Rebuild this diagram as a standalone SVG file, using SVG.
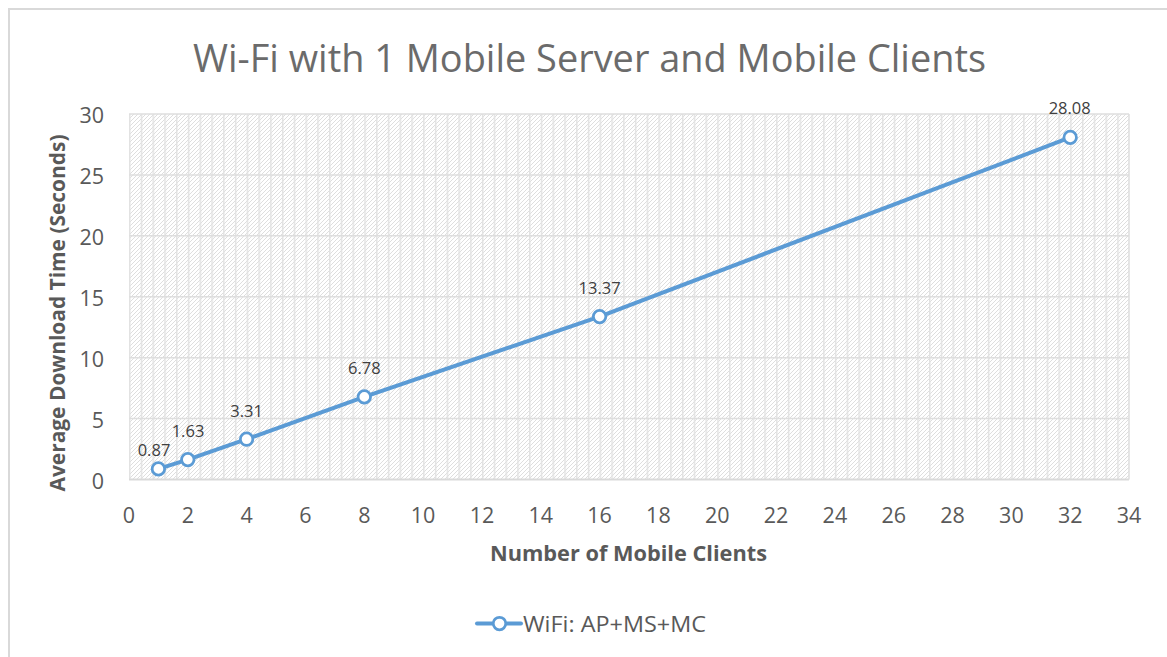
<svg xmlns="http://www.w3.org/2000/svg" width="1167" height="657" viewBox="0 0 1167 657">
  <style>
    .tick { font-family: "Open Sans", "Liberation Sans", sans-serif; font-size: 21.5px; fill: #595959; }
    .ytick { text-anchor: end; }
    .xtick { text-anchor: middle; }
    .lbl { font-family: "Open Sans", "Liberation Sans", sans-serif; font-size: 16.5px; fill: #404040; text-anchor: middle; }
    .axtitle { font-family: "Open Sans", "Liberation Sans", sans-serif; font-size: 21.5px; font-weight: bold; fill: #595959; text-anchor: middle; }
    .grid { stroke: #dedede; stroke-width: 1.5; }
    .series { fill: none; stroke: #5b9bd5; stroke-width: 4; stroke-linejoin: round; stroke-linecap: round; }
    .mk { fill: #ffffff; stroke: #5b9bd5; stroke-width: 2.75; }
  </style>
  <defs>
    <pattern id="hatch" patternUnits="userSpaceOnUse" x="0" y="0" width="4" height="4">
      <path d="M-1,1 L1,-1 M0,4 L4,0 M3,5 L5,3" stroke="#d6d6d6" stroke-width="0.8"/>
    </pattern>
    <pattern id="vlines" patternUnits="userSpaceOnUse" x="129" y="0" width="11.765" height="20">
      <line x1="0.75" y1="0" x2="0.75" y2="20" stroke="#e2e2e2" stroke-width="1.5"/>
    </pattern>
  </defs>

  <rect x="0" y="0" width="1167" height="657" fill="#ffffff"/>
  <rect id="chart-border" x="9" y="9" width="1200" height="700" fill="none" stroke="#d9d9d9" stroke-width="2"/>

  <g id="title">
    <text x="589.5" y="72" font-family="Open Sans, Liberation Sans, sans-serif" font-size="38" fill="#6b6b6b" text-anchor="middle" textLength="793" lengthAdjust="spacingAndGlyphs">Wi-Fi with 1 Mobile Server and Mobile Clients</text>
  </g>

  <g id="plot-area">
    <rect x="129" y="114" width="1000" height="365.5" fill="#ffffff"/>
    <rect x="129" y="114" width="1000" height="365.5" fill="url(#hatch)"/>
    <rect x="129" y="114" width="1000" height="365.5" fill="url(#vlines)"/>
    <line class="grid" x1="129" y1="114" x2="1129" y2="114"/>
    <line class="grid" x1="129" y1="174.9" x2="1129" y2="174.9"/>
    <line class="grid" x1="129" y1="235.8" x2="1129" y2="235.8"/>
    <line class="grid" x1="129" y1="296.75" x2="1129" y2="296.75"/>
    <line class="grid" x1="129" y1="357.7" x2="1129" y2="357.7"/>
    <line class="grid" x1="129" y1="418.6" x2="1129" y2="418.6"/>
    <line x1="129" y1="479.5" x2="1129" y2="479.5" stroke="#d9d9d9" stroke-width="2"/>
    <line class="grid" x1="1129" y1="114" x2="1129" y2="479.5"/>
  </g>

  <g id="y-axis">
    <text class="tick ytick" x="104" y="123">30</text>
    <text class="tick ytick" x="104" y="184">25</text>
    <text class="tick ytick" x="104" y="245">20</text>
    <text class="tick ytick" x="104" y="306">15</text>
    <text class="tick ytick" x="104" y="367">10</text>
    <text class="tick ytick" x="104" y="428">5</text>
    <text class="tick ytick" x="104" y="489">0</text>
    <text class="axtitle" transform="translate(65,313) rotate(-90)" textLength="357" lengthAdjust="spacingAndGlyphs">Average Download Time (Seconds)</text>
  </g>

  <g id="x-axis">
    <text class="tick xtick" x="129" y="523">0</text>
    <text class="tick xtick" x="187.8" y="523">2</text>
    <text class="tick xtick" x="246.6" y="523">4</text>
    <text class="tick xtick" x="305.5" y="523">6</text>
    <text class="tick xtick" x="364.3" y="523">8</text>
    <text class="tick xtick" x="423.1" y="523">10</text>
    <text class="tick xtick" x="482" y="523">12</text>
    <text class="tick xtick" x="540.8" y="523">14</text>
    <text class="tick xtick" x="599.6" y="523">16</text>
    <text class="tick xtick" x="658.4" y="523">18</text>
    <text class="tick xtick" x="717.2" y="523">20</text>
    <text class="tick xtick" x="776.1" y="523">22</text>
    <text class="tick xtick" x="834.9" y="523">24</text>
    <text class="tick xtick" x="893.7" y="523">26</text>
    <text class="tick xtick" x="952.5" y="523">28</text>
    <text class="tick xtick" x="1011.4" y="523">30</text>
    <text class="tick xtick" x="1070.2" y="523">32</text>
    <text class="tick xtick" x="1129" y="523">34</text>
    <text class="axtitle" x="628.5" y="561" textLength="277" lengthAdjust="spacingAndGlyphs">Number of Mobile Clients</text>
  </g>

  <g id="connectors">
    <path class="series" d="M158.4,468.9 L187.8,459.6 L246.6,439.2 L364.3,396.9 L599.6,316.6 L1070.2,137.4"/>
  </g>

  <g id="point-1"><circle class="mk" cx="158.4" cy="468.9" r="6.25"/><text class="lbl" x="154" y="456">0.87</text></g>
  <g id="point-2"><circle class="mk" cx="187.8" cy="459.6" r="6.25"/><text class="lbl" x="188" y="437">1.63</text></g>
  <g id="point-4"><circle class="mk" cx="246.6" cy="439.2" r="6.25"/><text class="lbl" x="246.6" y="417">3.31</text></g>
  <g id="point-8"><circle class="mk" cx="364.3" cy="396.9" r="6.25"/><text class="lbl" x="364.3" y="374">6.78</text></g>
  <g id="point-16"><circle class="mk" cx="599.6" cy="316.6" r="6.25"/><text class="lbl" x="599.6" y="293.5">13.37</text></g>
  <g id="point-32"><circle class="mk" cx="1070.2" cy="137.4" r="6.25"/><text class="lbl" x="1069.7" y="113.5">28.08</text></g>

  <g id="legend">
    <line x1="477" y1="623.5" x2="521" y2="623.5" stroke="#5b9bd5" stroke-width="4" stroke-linecap="round"/>
    <circle class="mk" cx="499.5" cy="623.5" r="6.25"/>
    <text x="523" y="631.5" font-family="Open Sans, Liberation Sans, sans-serif" font-size="22" fill="#595959" textLength="183" lengthAdjust="spacingAndGlyphs">WiFi: AP+MS+MC</text>
  </g>
</svg>
